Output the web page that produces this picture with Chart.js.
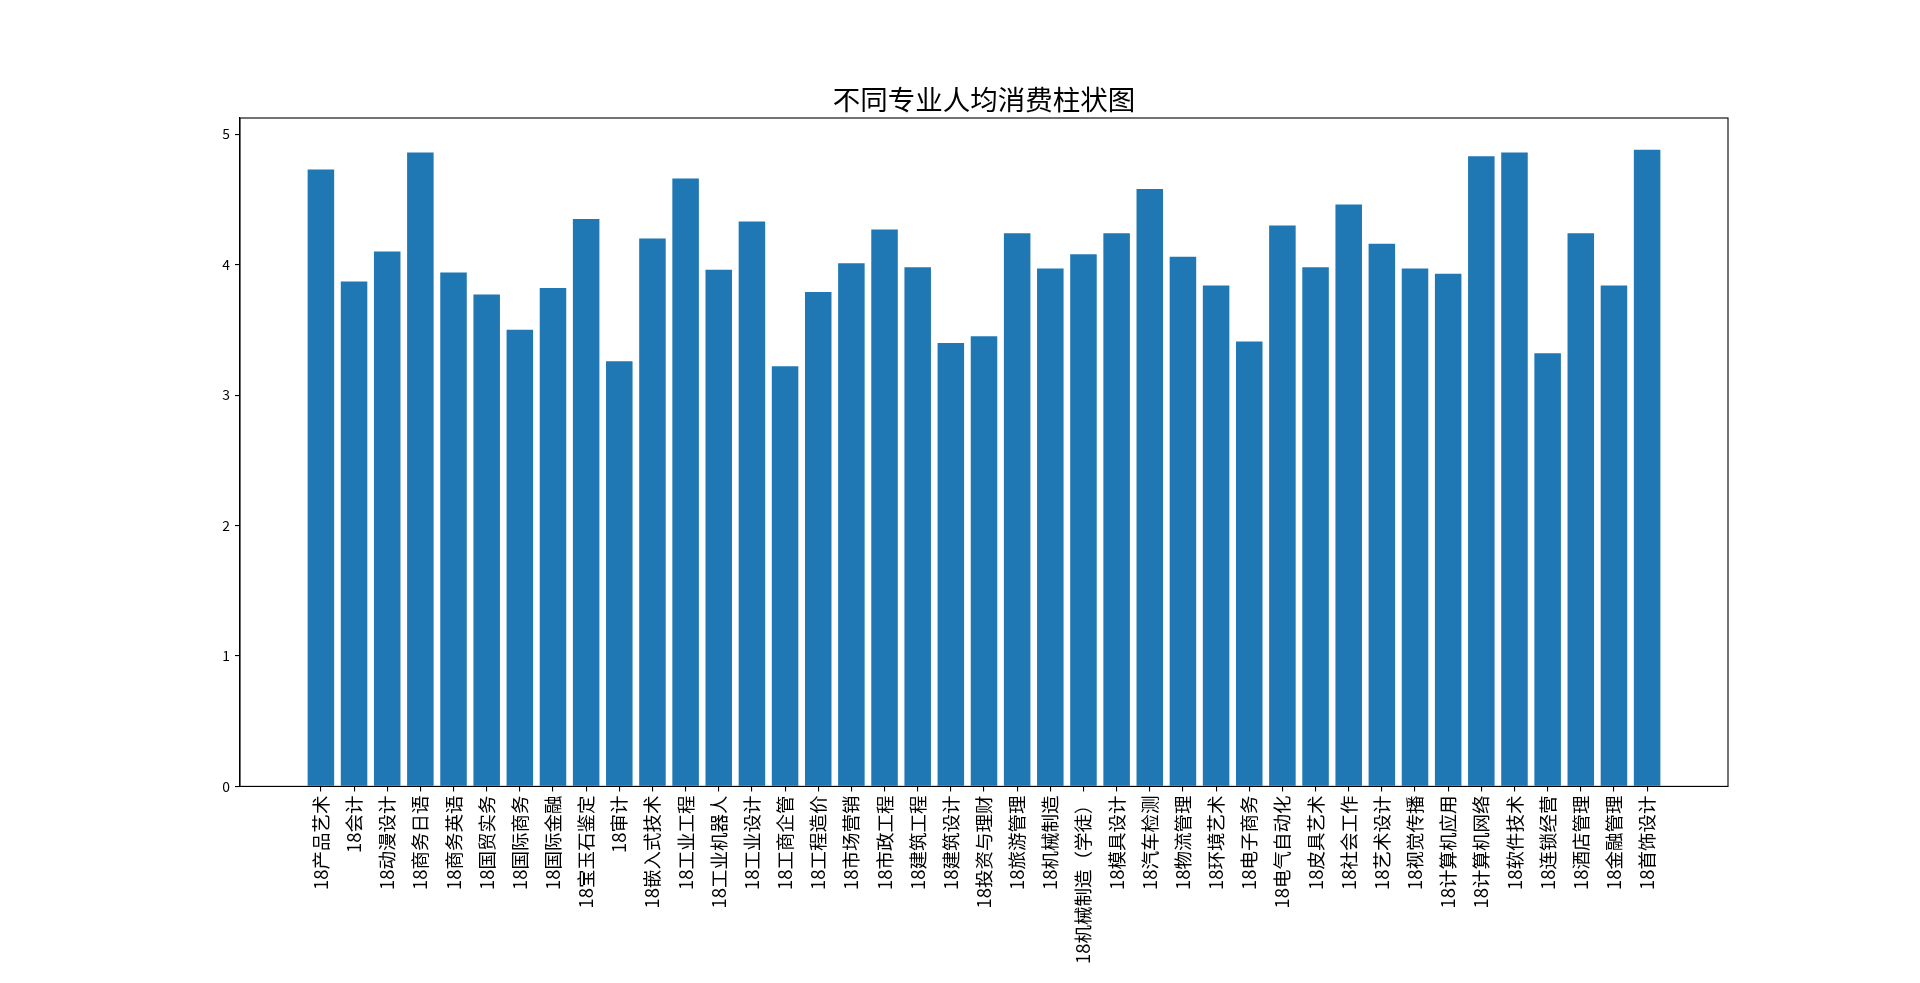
<!DOCTYPE html>
<html>
<head>
<meta charset="utf-8">
<script src="https://cdn.jsdelivr.net/npm/chart.js@4.4.0/dist/chart.umd.min.js"></script>
<style>
  html, body { margin: 0; padding: 0; background: #fff; }
  #wrap { width: 1920px; height: 983px; }
</style>
</head>
<body>
<div id="wrap"><canvas id="grafico"></canvas></div>
<script>
// categorias (专业) e valores
const majors = [
  "18产品艺术", "18会计", "18动漫设计", "18商务日语", "18商务英语", "18国贸实务",
  "18国际商务", "18国际金融", "18宝玉石鉴定", "18审计", "18嵌入式技术", "18工业工程",
  "18工业机器人", "18工业设计", "18工商企管", "18工程造价", "18市场营销", "18市政工程",
  "18建筑工程", "18建筑设计", "18投资与理财", "18旅游管理", "18机械制造", "18机械制造（学徒）",
  "18模具设计", "18汽车检测", "18物流管理", "18环境艺术", "18电子商务", "18电气自动化",
  "18皮具艺术", "18社会工作", "18艺术设计", "18视觉传播", "18计算机应用", "18计算机网络",
  "18软件技术", "18连锁经营", "18酒店管理", "18金融管理", "18首饰设计"
];

const avgSpend = [
  4.73, 3.87, 4.10, 4.86, 3.94, 3.77,
  3.50, 3.82, 4.35, 3.26, 4.20, 4.66,
  3.96, 4.33, 3.22, 3.79, 4.01, 4.27,
  3.98, 3.40, 3.45, 4.24, 3.97, 4.08,
  4.24, 4.58, 4.06, 3.84, 3.41, 4.30,
  3.98, 4.46, 4.16, 3.97, 3.93, 4.83,
  4.86, 3.32, 4.24, 3.84, 4.88
];

const yTicks = [0, 1, 2, 3, 4, 5];

const titulo = "不同专业人均消费柱状图";
const corBarra = "#1f77b4";
const fonte = "'Noto Sans CJK SC', 'DejaVu Sans', sans-serif";

// moldura completa (matplotlib desenha as 4 bordas)
const moldura = {
  id: "moldura",
  afterDatasetsDraw(chart) {
    const { ctx, chartArea: a } = chart;
    ctx.save();
    ctx.strokeStyle = "#000";
    ctx.lineWidth = 1.1;
    ctx.strokeRect(a.left, a.top, a.right - a.left, a.bottom - a.top);
    ctx.restore();
  }
};

const n = majors.length;
const margem = (n - 1 + 0.8) * 0.05 + 0.4;

new Chart(document.getElementById("grafico").getContext("2d"), {
  type: "bar",
  data: {
    datasets: [{
      label: "人均消费",
      data: majors.map((m, i) => ({ x: i, y: avgSpend[i] })),
      backgroundColor: corBarra,
      borderWidth: 0,
      barPercentage: 0.8,
      categoryPercentage: 1.0
    }]
  },
  options: {
    responsive: true,
    maintainAspectRatio: false,
    animation: false,
    devicePixelRatio: 1,
    layout: { padding: { left: 0, right: 192, top: 0, bottom: 0 } },
    plugins: {
      legend: { display: false },
      tooltip: { enabled: false },
      title: {
        display: true,
        fullSize: false,
        text: titulo,
        color: "#000",
        font: { family: fonte, size: 27.5, weight: "normal", lineHeight: 1 },
        padding: { top: 85.5, bottom: 5 }
      }
    },
    scales: {
      x: {
        type: "linear",
        offset: false,
        min: -margem,
        max: n - 1 + margem,
        afterBuildTicks: s => { s.ticks = majors.map((m, i) => ({ value: i })); },
        afterFit: s => { s.height = 983 - 786.4; },
        ticks: {
          autoSkip: false,
          minRotation: 90,
          maxRotation: 90,
          padding: 4,
          color: "#000",
          font: { family: fonte, size: 18.5 },
          callback: v => majors[v]
        },
        grid: { display: true, offset: false, drawOnChartArea: false, drawTicks: true, tickLength: 5, color: "#000", lineWidth: 1.1 },
        border: { display: true, color: "#000", width: 1.1 }
      },
      y: {
        min: 0,
        max: Math.max(...avgSpend) * 1.05,
        afterBuildTicks: s => { s.ticks = yTicks.map(v => ({ value: v })); },
        afterFit: s => { s.width = 240; },
        ticks: {
          padding: 5,
          color: "#000",
          font: { family: fonte, size: 13.9 }
        },
        grid: { display: true, drawOnChartArea: false, drawTicks: true, tickLength: 5, color: "#000", lineWidth: 1.1 },
        border: { display: true, color: "#000", width: 1.1 }
      }
    }
  },
  plugins: [moldura]
});
</script>
</body>
</html>
